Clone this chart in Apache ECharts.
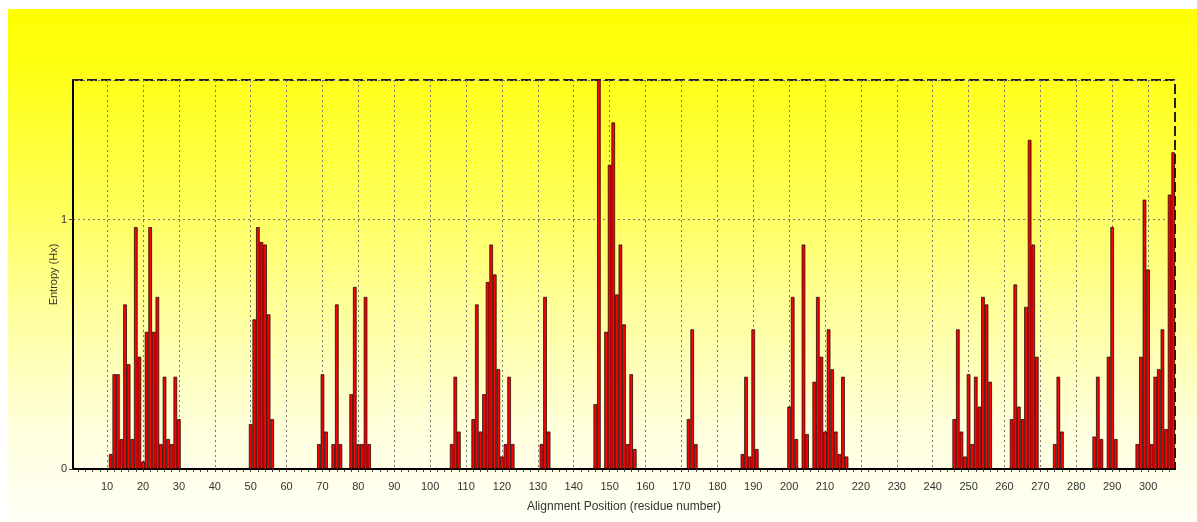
<!DOCTYPE html>
<html lang="en">
<head>
    <meta charset="UTF-8">
    <title>Entropy (Hx) plot</title>
    <script src="https://cdn.jsdelivr.net/npm/echarts@6/dist/echarts.min.js"></script>
    <style>
        html, body { margin: 0; padding: 0; background: #fff; }
        #bg {
            position: absolute; left: 8px; top: 9px; width: 1189px; height: 513px;
            background: linear-gradient(#ffff00 0%, #ffff14 12%, #ffff50 35%, #ffffa0 60%, #ffffdc 82%, #fffff6 100%);
        }
        #main { position: absolute; left: 0; top: 0; width: 1197px; height: 522px; }
    </style>
</head>
<body>
<div id="bg"></div>
<div id="main"></div>
<script type="text/javascript">
    // entropy per alignment position, residues 1..307 (ten per row)
    var entropy = [
        0, 0, 0, 0, 0, 0, 0, 0, 0, 0,
        0.06, 0.38, 0.38, 0.12, 0.66, 0.42, 0.12, 0.97, 0.45, 0.03,
        0.55, 0.97, 0.55, 0.69, 0.10, 0.37, 0.12, 0.10, 0.37, 0.20,
        0, 0, 0, 0, 0, 0, 0, 0, 0, 0,
        0, 0, 0, 0, 0, 0, 0, 0, 0, 0.18,
        0.60, 0.97, 0.91, 0.90, 0.62, 0.20, 0, 0, 0, 0,
        0, 0, 0, 0, 0, 0, 0, 0, 0.10, 0.38,
        0.15, 0, 0.10, 0.66, 0.10, 0, 0, 0.30, 0.73, 0.10,
        0.10, 0.69, 0.10, 0, 0, 0, 0, 0, 0, 0,
        0, 0, 0, 0, 0, 0, 0, 0, 0, 0,
        0, 0, 0, 0, 0, 0.10, 0.37, 0.15, 0, 0,
        0, 0.20, 0.66, 0.15, 0.30, 0.75, 0.90, 0.78, 0.40, 0.05,
        0.10, 0.37, 0.10, 0, 0, 0, 0, 0, 0, 0,
        0.10, 0.69, 0.15, 0, 0, 0, 0, 0, 0, 0,
        0, 0, 0, 0, 0, 0.26, 1.56, 0, 0.55, 1.22,
        1.39, 0.70, 0.90, 0.58, 0.10, 0.38, 0.08, 0, 0, 0,
        0, 0, 0, 0, 0, 0, 0, 0, 0, 0,
        0, 0.20, 0.56, 0.10, 0, 0, 0, 0, 0, 0,
        0, 0, 0, 0, 0, 0, 0.06, 0.37, 0.05, 0.56,
        0.08, 0, 0, 0, 0, 0, 0, 0, 0, 0.25,
        0.69, 0.12, 0, 0.90, 0.14, 0, 0.35, 0.69, 0.45, 0.15,
        0.56, 0.40, 0.15, 0.06, 0.37, 0.05, 0, 0, 0, 0,
        0, 0, 0, 0, 0, 0, 0, 0, 0, 0,
        0, 0, 0, 0, 0, 0, 0, 0, 0, 0,
        0, 0, 0, 0, 0, 0.20, 0.56, 0.15, 0.05, 0.38,
        0.10, 0.37, 0.25, 0.69, 0.66, 0.35, 0, 0, 0, 0,
        0, 0.20, 0.74, 0.25, 0.20, 0.65, 1.32, 0.90, 0.45, 0,
        0, 0, 0, 0.10, 0.37, 0.15, 0, 0, 0, 0,
        0, 0, 0, 0, 0.13, 0.37, 0.12, 0, 0.45, 0.97,
        0.12, 0, 0, 0, 0, 0, 0.10, 0.45, 1.08, 0.80,
        0.10, 0.37, 0.40, 0.56, 0.16, 1.10, 1.27
    ];
    var positions = entropy.map(function (v, i) { return String(i + 1); });
    var yTickLabels = [0, 1];
    var yMax = 1.56;

    var font = '"Liberation Sans", Arial, sans-serif';
    var myChart = echarts.init(document.getElementById('main'), null, {renderer: 'canvas'});

    // label / grid every 10 residues, small tick every 2
    function every(n) {
        return function (index) { return (index + 1) % n === 0; };
    }

    var option = {
        backgroundColor: 'transparent',
        animation: false,
        grid: {
            left: 73, top: 80, right: 22, bottom: 53,
            show: true,
            borderColor: '#222',
            borderWidth: 2,
            borderType: [10, 4]
        },
        xAxis: {
            type: 'category',
            data: positions,
            boundaryGap: true,
            name: 'Alignment Position (residue number)',
            nameLocation: 'middle',
            nameGap: 32,
            nameTextStyle: {color: '#333', fontSize: 12, fontFamily: font},
            axisLine: {lineStyle: {color: '#000', width: 2}},
            axisTick: {show: true, interval: every(2), alignWithLabel: true, length: 3, lineStyle: {color: '#444'}},
            axisLabel: {interval: every(10), color: '#333', fontSize: 11, fontFamily: font, margin: 12},
            splitLine: {
                show: true,
                interval: every(10),
                alignWithLabel: true,
                lineStyle: {color: '#777', type: [2, 3], width: 1}
            }
        },
        yAxis: {
            type: 'value',
            min: 0,
            max: yMax,
            interval: 1,
            name: 'Entropy (Hx)',
            nameLocation: 'middle',
            nameGap: 14,
            nameMoveOverlap: false,
            nameRotate: 90,
            nameTextStyle: {color: '#333', fontSize: 11, fontFamily: font},
            axisLine: {show: true, lineStyle: {color: '#000', width: 2}},
            axisTick: {show: true, length: 4, lineStyle: {color: '#444'}},
            axisLabel: {
                color: '#333', fontSize: 11, fontFamily: font, margin: 6,
                showMaxLabel: false,
                formatter: function (v) { return yTickLabels.indexOf(v) >= 0 ? String(v) : ''; }
            },
            splitLine: {show: true, lineStyle: {color: '#777', type: [2, 3], width: 1}}
        },
        series: [{
            name: 'Entropy',
            type: 'bar',
            data: entropy,
            barCategoryGap: '0%',
            itemStyle: {color: '#ff0000', borderColor: '#000', borderWidth: 0.7}
        }]
    };

    myChart.setOption(option);
</script>
</body>
</html>
